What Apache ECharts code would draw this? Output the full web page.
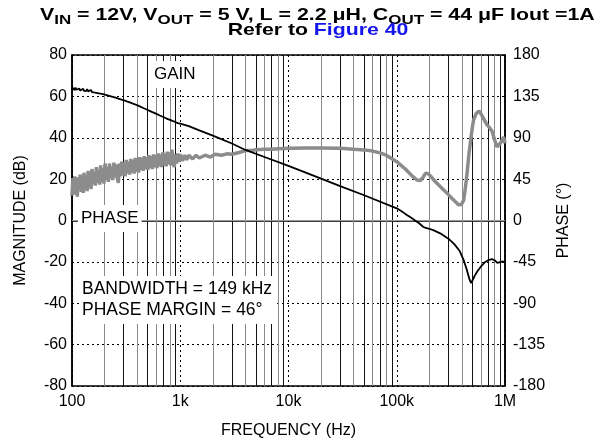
<!DOCTYPE html>
<html>
<head>
<meta charset="utf-8">
<script src="https://cdn.jsdelivr.net/npm/echarts@6/dist/echarts.min.js"></script>
<style>
html,body{margin:0;padding:0;background:#fff;}
#c{width:598px;height:447px;}
</style>
</head>
<body>
<div id="c"></div>
<script>
// ---------- DATA ----------
var xTickLabels = {100:'100', 1000:'1k', 10000:'10k', 100000:'100k', 1000000:'1M'};
var magTicks = [-80, 80, 20];
var phaseTicks = [-180, 180, 45];
var minorFreqs = [200,300,400,500,600,700,800,900,
                  2000,3000,4000,5000,6000,7000,8000,9000,
                  20000,30000,40000,50000,60000,70000,80000,90000,
                  200000,300000,400000,500000,600000,700000,800000,900000];

var gainData = [
 [100,64.3],[102,63.1],[104,64.1],[106,63.0],[108,64.2],[110,63.2],[112,63.9],[114,62.9],
 [117,63.8],[119,62.8],[122,63.6],[124,62.6],[127,63.7],[129,62.7],[132,63.4],[135,62.5],
 [138,63.5],[141,62.4],[144,63.2],[147,62.2],[150,63.1],[153,62.1],[157,62.9],[160,61.9],
 [164,62.8],[168,61.7],[172,62.6],[176,61.5],[180,62.4],[184,61.3],[188,62.1],[193,61.1],
 [197,61.9],[202,60.8],[207,61.6],[212,60.5],[217,61.3],[222,60.2],[227,61.0],[233,59.9],
 [238,60.7],[244,59.6],[250,60.4],[256,59.3],[262,60.0],[268,58.9],[275,59.7],[281,58.6],
 [288,59.3],[295,58.2],[302,58.9],[309,57.9],[317,58.6],[325,57.5],[333,58.2],[341,57.1],
 [349,57.8],[357,56.7],[366,57.4],[375,56.3],[384,57.0],[393,55.9],[403,56.5],[413,55.4],
 [423,56.0],[433,54.9],[444,55.5],[455,54.4],[466,55.0],[478,53.9],[490,54.4],[502,53.4],
 [514,53.9],[527,52.9],[540,53.3],[553,52.4],[567,52.8],[581,51.9],[595,52.2],[610,51.4],
 [625,51.7],[640,50.9],[656,51.2],[672,50.4],[689,50.7],[706,49.9],[723,50.2],[741,49.4],
 [760,49.7],[779,48.9],[798,49.2],[818,48.5],[838,48.7],[859,48.0],[880,48.2],[902,47.6],
 [924,47.8],[947,47.1],[970,47.3],[1000,46.8],
 [1200,45.6],[1500,43.6],[2000,41.0],[3000,37.2],[4000,34.1],[6000,30.7],[10000,26.4],
 [20000,20.2],[30000,16.6],[50000,12.2],[100000,5.9],[110000,4.6],[120000,3.2],[135000,1.4],
 [150000,-0.2],[160000,-1.2],[175000,-3.0],[185000,-3.6],[200000,-4.0],[220000,-4.8],
 [252000,-6.2],[300000,-8.8],[340000,-11.4],[380000,-14.6],[415000,-19.1],[445000,-24.0],
 [470000,-28.5],[485000,-30.2],[500000,-29.0],[530000,-26.3],[560000,-24.3],[600000,-22.2],
 [650000,-20.2],[700000,-19.2],[760000,-18.7],[800000,-19.2],[850000,-20.5],[880000,-20.8],
 [920000,-20.0],[960000,-19.8],[1000000,-20.2]
];

var phaseData = [
 [100,27],[102,46],[104,30],[106,48],[108,28],[110,44],[112,26],[114,47],[117,33],[119,50],
 [122,31],[124,47],[127,30],[129,52],[132,35],[135,49],[138,32],[141,54],[144,37],[147,51],
 [150,34],[153,56],[157,40],[160,53],[164,38],[168,58],[172,41],[176,55],[180,39],[184,60],
 [188,42],[193,57],[197,40],[202,62],[207,44],[212,58],[217,42],[222,62],[227,46],[233,59],
 [238,44],[244,63],[250,47],[256,61],[262,46],[268,41],[275,62],[281,48],[288,64],[295,49],
 [302,63],[309,48],[317,66],[325,51],[333,64],[341,50],[349,67],[357,52],[366,66],[375,51],
 [384,68],[393,53],[403,67],[413,52],[423,69],[433,55],[444,68],[455,54],[466,70],[478,56],
 [490,69],[502,55],[514,71],[527,57],[540,70],[553,56],[567,72],[581,58],[595,71],[610,57],
 [625,73],[640,59],[656,72],[672,58],[689,74],[706,60],[723,73],[741,59],[760,75],[779,61],
 [798,74],[818,60],[838,77],[859,63],[880,58],[902,72],[924,62],[947,73],[970,64],[1000,72],
 [1050,65],[1100,71],[1150,66],[1200,71],[1300,67],[1400,71],[1500,68],[1700,71],[1900,69],
 [2100,72],[2400,71],[2700,72.5],[3000,72],[3500,74],[4000,76],[4500,76],[5000,77],[6000,77.5],
 [7000,77.5],[8000,78],[10000,78.5],[15000,78.8],[20000,78.8],[30000,78.5],[40000,77.5],
 [50000,76.8],[60000,75.5],[70000,73.5],[80000,71],[100000,64],[120000,56],[140000,48],
 [154000,44],[165000,43.5],[175000,47],[185000,51.5],[195000,51],[210000,47],[230000,41.5],
 [252000,37],[290000,30],[330000,23],[372000,17],[395000,17.5],[415000,22],[430000,35],
 [446000,51],[465000,73],[478000,84],[500000,102],[513000,109.5],[540000,116],[575000,119],
 [600000,116],[640000,110],[682000,104],[720000,101],[759000,97],[800000,88],[844000,80],
 [875000,80],[905000,84],[940000,87],[970000,91],[1000000,84]
];

// ---------- CHART ----------
var FONT = '"Liberation Sans", Arial, Helvetica, sans-serif';
var chart = echarts.init(document.getElementById('c'), null, {renderer:'canvas'});

var titleRich = {
  n: {fontFamily: FONT, fontSize: 17, fontWeight: 'bold', fill: '#000'},
  s: {fontFamily: FONT, fontSize: 13.5, fontWeight: 'bold', fill: '#000', padding: [9, 0, 0, 0]},
  b: {fontFamily: FONT, fontSize: 17, fontWeight: 'bold', fill: '#1515ee'}
};

var option = {
  animation: false,
  backgroundColor: '#fff',
  grid: {left: 72, right: 93, top: 55, bottom: 61, show: true, borderColor: '#000', borderWidth: 1.5, backgroundColor: 'transparent'},
  xAxis: {
    type: 'log', logBase: 10, min: 100, max: 1000000,
    name: 'FREQUENCY (Hz)', nameLocation: 'middle', nameGap: 37,
    nameTextStyle: {fontFamily: FONT, fontSize: 16, color: '#000'},
    axisLine: {show: true, lineStyle: {color: '#000', width: 1.5}},
    axisTick: {show: false},
    axisLabel: {fontFamily: FONT, fontSize: 16, color: '#000', margin: 8,
      formatter: function (v) { return xTickLabels[Math.round(v)] || ''; }},
    splitLine: {show: true, lineStyle: {color: '#000', type: [2, 3], width: 1}},
    minorTick: {show: false}, minorSplitLine: {show: false}
  },
  yAxis: [{
    type: 'value', min: magTicks[0], max: magTicks[1], interval: magTicks[2],
    name: 'MAGNITUDE (dB)', nameLocation: 'middle', nameGap: 43, nameRotate: 90,
    nameTextStyle: {fontFamily: FONT, fontSize: 16, color: '#000'},
    axisLine: {show: true, lineStyle: {color: '#000', width: 1.5}},
    axisTick: {show: false},
    axisLabel: {fontFamily: FONT, fontSize: 16, color: '#000', margin: 5},
    splitLine: {show: true, lineStyle: {color: '#000', type: [2, 3], width: 1}}
  }, {
    type: 'value', min: phaseTicks[0], max: phaseTicks[1], interval: phaseTicks[2],
    position: 'right',
    name: 'PHASE (°)', nameLocation: 'middle', nameGap: 46, nameRotate: 90,
    nameTextStyle: {fontFamily: FONT, fontSize: 16, color: '#000'},
    axisLine: {show: true, lineStyle: {color: '#000', width: 1.5}},
    axisTick: {show: false},
    axisLabel: {fontFamily: FONT, fontSize: 16, color: '#000', margin: 8},
    splitLine: {show: false}
  }],
  graphic: [
    {type: 'text', x: 40, y: 4, scaleX: 1.255, scaleY: 1, z: 50,
     style: {x: 0, y: 0, textAlign: 'left', textVerticalAlign: 'top',
       text: '{n|V}{s|IN}{n| = 12V, V}{s|OUT}{n| = 5 V, L = 2.2 μH, C}{s|OUT}{n| = 44 μF Iout =1A}', rich: titleRich}},
    {type: 'text', x: 318, y: 22, scaleX: 1.25, scaleY: 1, z: 50,
     style: {x: 0, y: 0, textAlign: 'center', textVerticalAlign: 'top',
       text: '{n|Refer to }{b|Figure 40}', rich: titleRich}},
    {type: 'text', x: 151, y: 61, z: 50,
     style: {text: 'GAIN', fontFamily: FONT, fontSize: 17, fill: '#000', backgroundColor: '#fff', padding: [3, 3, 3, 3], lineHeight: 21}},
    {type: 'text', x: 78, y: 205, z: 50,
     style: {text: 'PHASE', fontFamily: FONT, fontSize: 17, fill: '#000', backgroundColor: '#fff', padding: [3, 3, 3, 3], lineHeight: 21}},
    {type: 'text', x: 79, y: 276, z: 50,
     style: {text: 'BANDWIDTH = 149 kHz\nPHASE MARGIN = 46°', fontFamily: FONT, fontSize: 17.5, fill: '#000',
       backgroundColor: '#fff', padding: [3, 3, 3, 3], lineHeight: 21}}
  ],
  series: [{
    type: 'line', data: [], z: 1, silent: true,
    markLine: {
      silent: true, symbol: 'none', label: {show: false}, animation: false,
      data: minorFreqs.map(function (f, i) {
        return {xAxis: f, lineStyle: {color: i % 2 ? '#111' : '#8a8a8a', type: 'solid', width: 1}};
      }).concat([{yAxis: 0, lineStyle: {color: '#999', type: 'solid', width: 1}}])
    }
  }, {
    name: 'PHASE', type: 'line', yAxisIndex: 1, data: phaseData, z: 60,
    showSymbol: false, smooth: false,
    lineStyle: {color: '#8c8c8c', width: 3.5}
  }, {
    name: 'GAIN', type: 'line', yAxisIndex: 0, data: gainData, z: 61,
    showSymbol: false, smooth: false,
    lineStyle: {color: '#000', width: 1.8}
  }]
};
chart.setOption(option);
</script>
</body>
</html>
